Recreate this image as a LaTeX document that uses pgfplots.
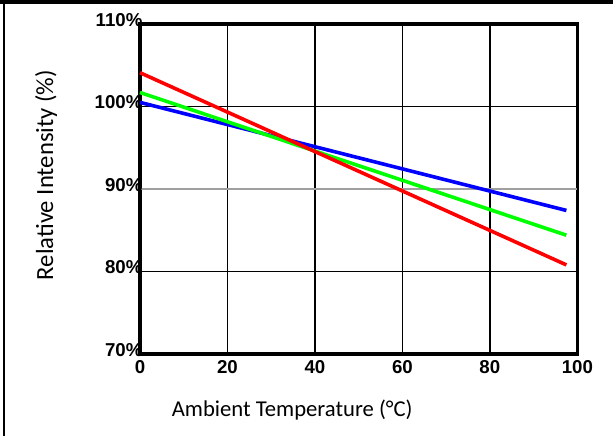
\documentclass[border=0pt]{standalone}
\usepackage{pgfplots}
\pgfplotsset{compat=1.18}
\usepackage{fontspec}
\setmainfont{Liberation Sans}
\newfontfamily\calibri{Carlito}
\begin{document}
\begin{tikzpicture}
\path[fill=white] (0pt,0pt) rectangle (459.75pt,327pt);
\fill[black] (0pt,324pt) rectangle (459.75pt,327pt);
\fill[black] (2.25pt,0pt) rectangle (3.75pt,327pt);
\begin{axis}[
  at={(105pt,61.5pt)}, anchor=south west,
  scale only axis,
  width=328pt, height=247.5pt,
  xmin=0, xmax=100, ymin=70, ymax=110,
  xtick={0,20,40,60,80,100},
  ytick={70,80,100,110},
  yticklabels={70\%,80\%,100\%,110\%},
  extra y ticks={90},
  extra y tick labels={90\%},
  extra y tick style={major grid style={gray!75, line width=1pt}},
  /pgf/number format/assume math mode=true,
  tick label style={font=\fontsize{14}{15}\selectfont\bfseries},
  xticklabel style={yshift=-4pt, inner sep=1pt},
  yticklabel style={xshift=3pt, yshift=3pt, inner sep=1pt},
  axis line style={line width=2.3pt},
  grid=major,
  major grid style={black, line width=1pt},
  tick style={draw=none},
  xlabel={\calibri Ambient Temperature (°C)},
  ylabel={\calibri Relative Intensity (\%)},
  xlabel style={font=\fontsize{17}{19}\selectfont, at={(axis description cs:0.348,-0.17)}, anchor=center},
  ylabel style={font=\fontsize{18.5}{20}\selectfont, at={(axis description cs:-0.215,0.542)}, anchor=center},
  clip=false,
]
\addplot[blue, line width=2.7pt] coordinates {(0,100.5) (97.5,87.4)};
\addplot[green, line width=2.7pt] coordinates {(0,101.7) (97.5,84.4)};
\addplot[red, line width=2.7pt] coordinates {(0,104.1) (97.5,80.8)};
\end{axis}
\end{tikzpicture}
\end{document}
